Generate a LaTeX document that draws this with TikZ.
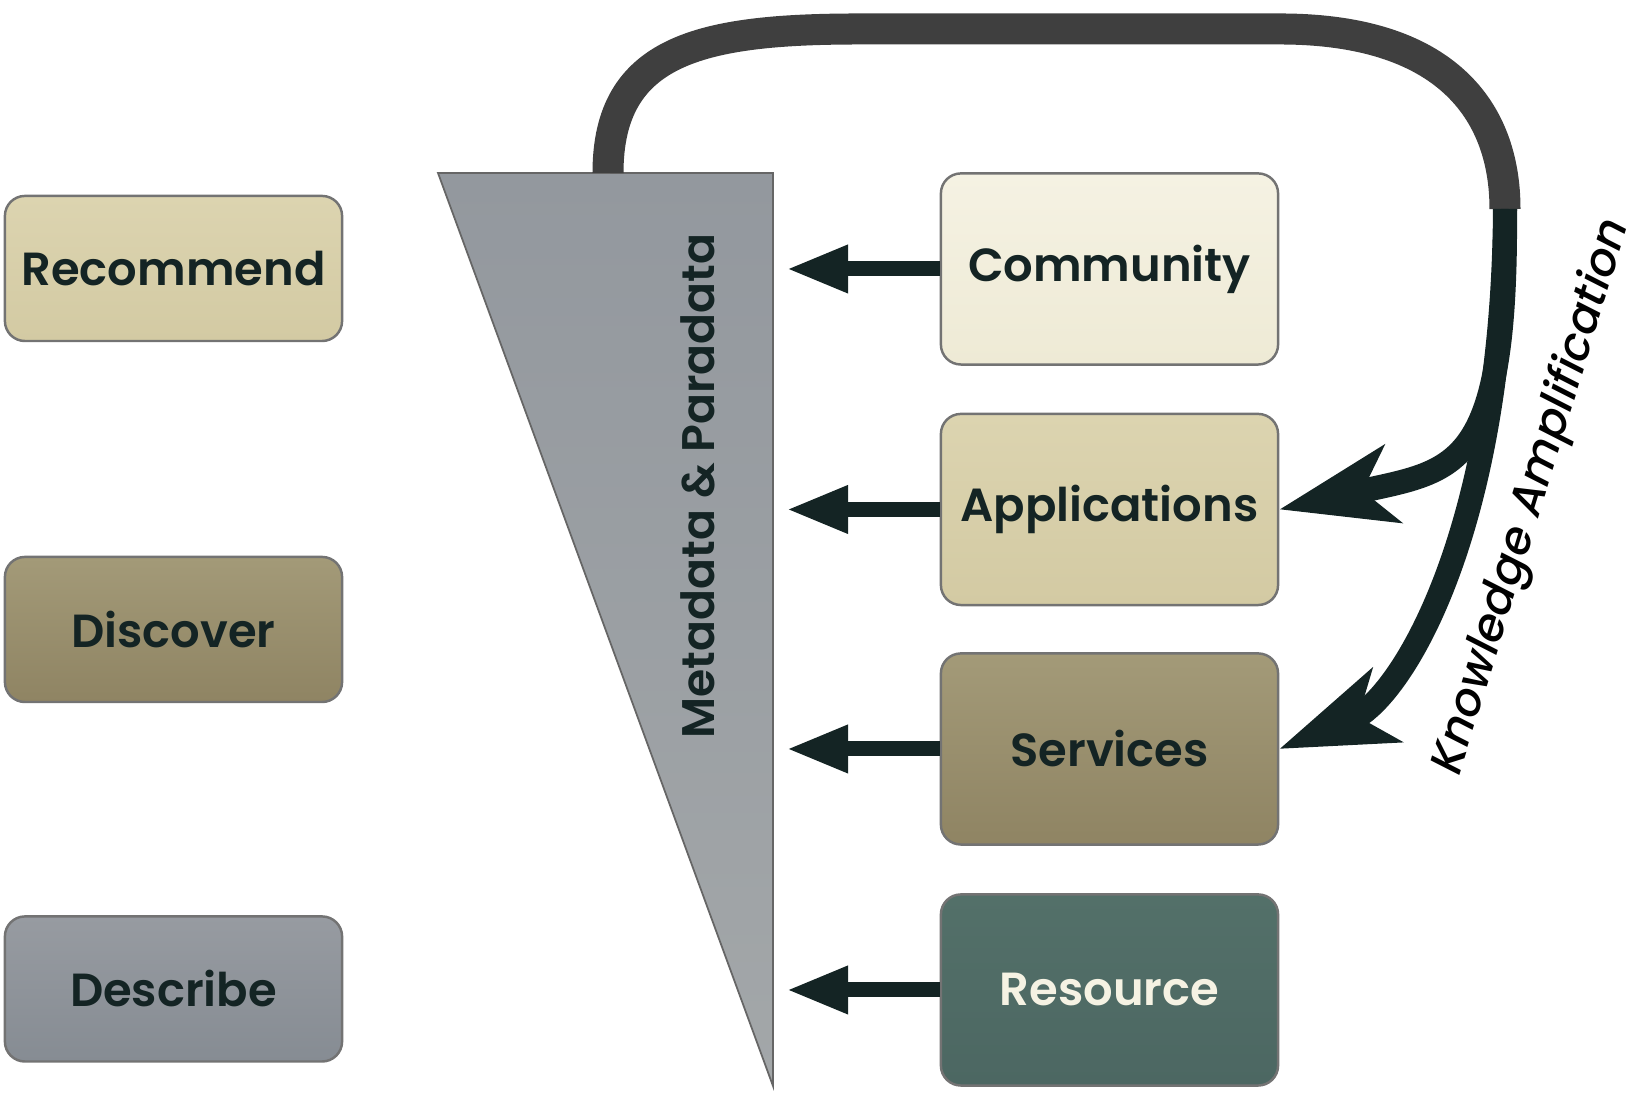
\documentclass[tikz,border=0pt]{standalone}
\usepackage{fontspec}
\setmainfont{Poppins}[BoldFont={Poppins SemiBold}]
\newfontfamily\ampfont{Poppins Medium Italic}
\usetikzlibrary{positioning, calc, arrows.meta}

\definecolor{inkgreen}{HTML}{142424}
\definecolor{loopgray}{HTML}{3F3F3F}
\definecolor{khakiA}{HTML}{DCD4B0}
\definecolor{khakiB}{HTML}{D3CAA3}
\definecolor{creamA}{HTML}{F5F2E3}
\definecolor{creamB}{HTML}{EEEAD5}
\definecolor{oliveA}{HTML}{A39A78}
\definecolor{oliveB}{HTML}{8F8463}
\definecolor{slateA}{HTML}{979BA1}
\definecolor{slateB}{HTML}{868C93}
\definecolor{tealA}{HTML}{537069}
\definecolor{tealB}{HTML}{4C6762}
\definecolor{wedgeA}{HTML}{93989E}
\definecolor{wedgeB}{HTML}{A3A7A9}

\begin{document}
\begin{tikzpicture}[
    x=0.01cm, y=0.01cm,
    box/.style={draw=black!55, line width=0.7pt, rounded corners=0.2cm, minimum width=3.37cm, text centered, text=inkgreen, font=\fontsize{13.2}{16}\selectfont\bfseries},
    stage/.style={box, minimum height=1.45cm},
    layer/.style={box, minimum height=1.91cm},
    pointer/.style={-{Triangle[length=0.62cm, width=0.44cm]}, line width=0.15cm, draw=inkgreen},
    feedback/.style={-{Stealth[length=1.15cm, width=0.78cm, inset=0.3cm]}, line width=0.24cm, draw=inkgreen},
    sidelabel/.style={text=inkgreen, font=\fontsize{13}{16}\selectfont\bfseries}
]
\useasboundingbox (0,0) rectangle (1638,1095);

% left column: the three steps
\node[stage, top color=khakiA, bottom color=khakiB] (recommend) at (173.5, 826.5) {Recommend};
\node[stage, top color=oliveA, bottom color=oliveB] (discover)  at (173.5, 465.5) {Discover};
\node[stage, top color=slateA, bottom color=slateB] (describe)  at (173.5, 106)   {Describe};

% right column: the layers
\node[layer, top color=creamA, bottom color=creamB] (community)    at (1109.5, 826)   {Community};
\node[layer, top color=khakiA, bottom color=khakiB] (applications) at (1109.5, 585.5) {Applications};
\node[layer, top color=oliveA, bottom color=oliveB] (services)     at (1109.5, 346)   {Services};
\node[layer, top color=tealA, bottom color=tealB, text=creamA] (resource) at (1109.5, 105) {Resource};

% the wedge
\draw[draw=black!60, line width=0.5pt, top color=wedgeA, bottom color=wedgeB] (438,922) -- (773,922) -- (773,9) -- cycle;
\node[sidelabel, rotate=90] (metadata) at (698, 609) {Metadata \& Paradata};

% arrows into the wedge
\coordinate (tipC) at (786, 826);
\coordinate (tipA) at (786, 585.5);
\coordinate (tipS) at (786, 346);
\coordinate (tipR) at (786, 105);
\draw[pointer] (community.west)    -- (tipC);
\draw[pointer] (applications.west) -- (tipA);
\draw[pointer] (services.west)     -- (tipS);
\draw[pointer] (resource.west)     -- (tipR);

% feedback loop
\coordinate (loopstart) at (608, 922);
\coordinate (split) at (1505, 886);
\draw[loopgray, line width=0.31cm] (loopstart) .. controls (608,1045) and (700,1066) .. (860,1066)
    -- (1280,1066) .. controls (1445,1066) and (1505,985) .. (split);
\draw[feedback] (split) .. controls (1507,620) and (1455,625) .. (applications.east);
\draw[feedback] (split) .. controls (1503,560) and (1400,395) .. (services.east);

\node[font=\fontsize{13}{16}\selectfont\ampfont, text=black, rotate=73] (amplify) at (1533, 598) {Knowledge Amplification};

\end{tikzpicture}
\end{document}
